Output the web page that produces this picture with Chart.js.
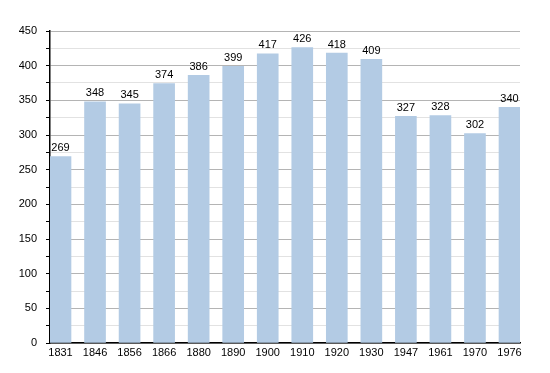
<!DOCTYPE html>
<html>
<head>
<meta charset="utf-8">
<script src="https://cdn.jsdelivr.net/npm/chart.js@4/dist/chart.umd.min.js"></script>
<style>
  html, body { margin: 0; padding: 0; background: #fff; }
  #wrap { width: 550px; height: 373px; }
</style>
</head>
<body>
<div id="wrap"><canvas id="myChart" width="550" height="373"></canvas></div>
<script>
// census years and population
var years = ['1831', '1846', '1856', '1866', '1880', '1890', '1900', '1910', '1920', '1930', '1947', '1961', '1970', '1976'];
var population = [269, 348, 345, 374, 386, 399, 417, 426, 418, 409, 327, 328, 302, 340];
var yTicks = [0, 50, 100, 150, 200, 250, 300, 350, 400, 450];

var element = document.getElementById('myChart').getContext('2d');

// draw the value above each bar
var valueLabels = {
    id: 'valueLabels',
    afterDatasetsDraw: function(chart) {
        var ctx = chart.ctx;
        var meta = chart.getDatasetMeta(0);
        ctx.save();
        ctx.font = '11px "Liberation Sans", Arial, sans-serif';
        ctx.fillStyle = '#000';
        ctx.textAlign = 'center';
        ctx.textBaseline = 'bottom';
        meta.data.forEach(function(bar, i) {
            ctx.fillText(String(population[i]), bar.x, bar.y - 3);
        });
        ctx.restore();
    }
};

var chartData = {
    datasets: [{
        data: population.map(function(v, i) { return { x: i, y: v }; }),
        backgroundColor: '#b3cbe4',
        borderWidth: 0,
        barThickness: 21
    }]
};

var chartOptions = {
    responsive: false,
    animation: false,
    layout: {
        padding: { left: 0, right: 30, top: 31, bottom: 0 }
    },
    plugins: {
        legend: { display: false },
        tooltip: { enabled: false }
    },
    scales: {
        x: {
            type: 'linear',
            offset: false,
            z: 1, // axis line on top of the bars
            min: -0.304,
            max: 13.304,
            grid: { display: false, drawTicks: false, offset: false },
            border: { display: true, color: '#000', width: 1.5 },
            ticks: {
                stepSize: 1,
                includeBounds: false,
                autoSkip: false,
                maxRotation: 0,
                padding: 3,
                color: '#000',
                font: { family: '"Liberation Sans", Arial, sans-serif', size: 11 },
                callback: function(value) {
                    return Number.isInteger(value) ? years[value] : '';
                }
            },
            afterFit: function(scale) { scale.height = 30; }
        },
        y: {
            min: 0,
            max: 450,
            afterBuildTicks: function(scale) {
                var t = [];
                for (var v = 0; v <= 450; v += 25) t.push({ value: v });
                scale.ticks = t;
            },
            grid: {
                color: function(c) {
                    if (c.tick && c.tick.value % 50 === 0) return '#b4b4b4';
                    return '#e2e2e2';
                },
                tickColor: '#000',
                tickLength: 4,
                lineWidth: 1
            },
            border: { display: true, color: '#000', width: 1.5 },
            ticks: {
                padding: 9,
                color: '#000',
                font: { family: '"Liberation Sans", Arial, sans-serif', size: 11 },
                callback: function(value) {
                    return yTicks.indexOf(value) >= 0 ? String(value) : '';
                }
            },
            afterFit: function(scale) { scale.width = 50; }
        }
    }
};

var chart = new Chart(element, { type: 'bar', data: chartData, options: chartOptions, plugins: [valueLabels] });
</script>
</body>
</html>
